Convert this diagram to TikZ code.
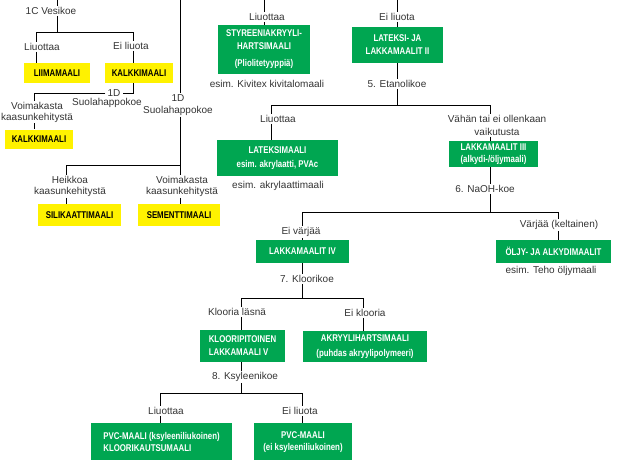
\documentclass[tikz,border=0pt]{standalone}
\usepackage{fontspec}
\setmainfont{Liberation Sans}
\newfontfamily\boxfont[FakeStretch=0.8]{Liberation Sans}
\usepackage{xcolor}
\usetikzlibrary{positioning, calc}

\definecolor{paintgreen}{RGB}{0,166,81}
\definecolor{paintyellow}{RGB}{255,242,0}

\tikzset{
  testlbl/.style={font=\fontsize{10}{11}\selectfont, text=black!80, align=center, inner sep=1pt},
  yellowbox/.style={fill=paintyellow, text=black, font=\boxfont\bfseries\fontsize{9.8}{13}\selectfont, inner sep=0pt, align=center},
  greenbox/.style={fill=paintgreen, text=white, font=\boxfont\bfseries\fontsize{9.8}{13}\selectfont, inner sep=0pt, align=center},
  wire/.style={draw=black, line width=0.8pt}
}

\begin{document}
\begin{tikzpicture}[x=1pt, y=-1pt]
    \useasboundingbox (0,0) rectangle (621,459);

    % Left tree: water test
    \node[testlbl] (vesi) at (51,11) {1C Vesikoe};
    \node[testlbl] (liu1) at (42,47) {Liuottaa};
    \node[testlbl] (ei1) at (131,46) {Ei liuota};
    \node[yellowbox, minimum width=66, minimum height=20] (liima) at (57,73) {LIIMAMAALI};
    \node[yellowbox, minimum width=68, minimum height=20] (kalk1) at (139,73) {KALKKIMAALI};
    \node[testlbl, inner sep=2pt] (sh1a) at (114,93) {1D};
    \node[testlbl] (sh1b) at (107,103) {Suolahappokoe};
    \node[testlbl] (voim1) at (37,112) {Voimakasta\\kaasunkehitystä};
    \node[yellowbox, minimum width=68, minimum height=19] (kalk2) at (39,139) {KALKKIMAALI};

    % Main line: hydrochloric acid test
    \node[testlbl, font=\fontsize{10}{12}\selectfont] (sh2) at (178,105) {1D\\Suolahappokoe};
    \node[testlbl] (heik) at (70,186.5) {Heikkoa\\kaasunkehitystä};
    \node[testlbl] (voim2) at (182,186.5) {Voimakasta\\kaasunkehitystä};
    \node[yellowbox, minimum width=83, minimum height=22] (sili) at (79.5,215) {SILIKAATTIMAALI};
    \node[yellowbox, minimum width=82, minimum height=22] (seme) at (179,215) {SEMENTTIMAALI};

    % Right tree
    \node[testlbl] (liu3) at (267,17) {Liuottaa};
    \node[greenbox, minimum width=92, minimum height=49] (styr) at (264,49.5) {STYREENIAKRYYLI-\\HARTSIMAALI\\[4pt](Pliolitetyyppiä)};
    \node[testlbl] (kivi) at (267,84) {esim. Kivitex kivitalomaali};
    \node[testlbl] (ei4) at (397,17) {Ei liuota};
    \node[greenbox, minimum width=91, minimum height=36] (lat2) at (397.5,45) {LATEKSI- JA\\LAKKAMAALIT II};
    \node[testlbl] (eta) at (397,84) {5. Etanolikoe};

    \node[testlbl] (liu5) at (278,119) {Liuottaa};
    \node[greenbox, minimum width=121, minimum height=36, font=\boxfont\bfseries\fontsize{9.8}{14}\selectfont] (latm) at (277.5,158) {LATEKSIMAALI\\esim. akrylaatti, PVAc};
    \node[testlbl] (akr) at (278,186) {esim. akrylaattimaali};
    \node[testlbl, font=\fontsize{10}{12.5}\selectfont] (vahan) at (497,125.5) {Vähän tai ei ollenkaan\\vaikutusta};
    \node[greenbox, align=left, minimum width=89, minimum height=26, font=\boxfont\bfseries\fontsize{9.8}{11.5}\selectfont] (lak3) at (493.5,154) {LAKKAMAALIT III\\(alkydi-/öljymaali)};
    \node[testlbl] (naoh) at (485,189) {6. NaOH-koe};

    \node[testlbl] (eiv) at (301,232) {Ei värjää};
    \node[greenbox, minimum width=93, minimum height=23] (lak4) at (302.5,251.5) {LAKKAMAALIT IV};
    \node[testlbl] (kloori) at (307,279) {7. Kloorikoe};
    \node[testlbl] (varj) at (559,225) {Värjää (keltainen)};
    \node[greenbox, minimum width=115, minimum height=23] (oljy) at (553.5,251.5) {ÖLJY- JA ALKYDIMAALIT};
    \node[testlbl] (teho) at (551,271) {esim. Teho öljymaali};

    \node[testlbl] (kl) at (237,312) {Klooria läsnä};
    \node[testlbl] (eik) at (365,313) {Ei klooria};
    \node[greenbox, align=left, minimum width=85, minimum height=32] (lak5) at (242.5,346) {KLOORIPITOINEN\\LAKKAMAALI V};
    \node[greenbox, minimum width=124, minimum height=31, font=\boxfont\bfseries\fontsize{9.8}{15}\selectfont] (akrh) at (365,346.5) {AKRYYLIHARTSIMAALI\\(puhdas akryylipolymeeri)};
    \node[testlbl] (ksy) at (245,377) {8. Ksyleenikoe};
    \node[testlbl] (liu8) at (166,411) {Liuottaa};
    \node[testlbl] (ei8) at (300,411) {Ei liuota};
    \node[greenbox, align=left, minimum width=141, minimum height=38, font=\boxfont\bfseries\fontsize{9.8}{12.5}\selectfont] (pvc1) at (161.5,442) {PVC-MAALI (ksyleeniliukoinen)\\KLOORIKAUTSUMAALI};
    \node[greenbox, minimum width=98, minimum height=38, font=\boxfont\bfseries\fontsize{9.8}{12.5}\selectfont] (pvc2) at (303,442) {PVC-MAALI\\(ei ksyleeniliukoinen)};

    % Branch points
    \coordinate (top1) at (57,0);
    \coordinate (b1) at (57,32);
    \coordinate (b1l) at (36,32);
    \coordinate (b1r) at (133,32);
    \coordinate (c1l) at (34,93);
    \coordinate (top2) at (180,0);
    \coordinate (b2) at (180,165);
    \coordinate (b2l) at (66,165);
    \coordinate (top3) at (264,0);
    \coordinate (top4) at (397,0);
    \coordinate (b5) at (397,105);
    \coordinate (b5l) at (271,105);
    \coordinate (b5r) at (490,105);
    \coordinate (b6) at (490,212);
    \coordinate (b6l) at (302,212);
    \coordinate (b6r) at (558,212);
    \coordinate (b7) at (302,298);
    \coordinate (b7l) at (241,298);
    \coordinate (b7r) at (363,298);
    \coordinate (b8) at (241,393);
    \coordinate (b8l) at (160,393);
    \coordinate (b8r) at (302,393);

    % Left connectors
    \draw[wire] (top1) -- (top1 |- vesi.north);
    \draw[wire] (top1 |- vesi.south) -- (b1);
    \draw[wire] (b1l) -- (b1r);
    \draw[wire] (b1l) -- (b1l |- liu1.north);
    \draw[wire] (b1l |- liu1.south) -- (b1l |- liima.north);
    \draw[wire] (b1r) -- (b1r |- ei1.north);
    \draw[wire] (b1r |- ei1.south) -- (b1r |- kalk1.north);
    \draw[wire] (b1r |- kalk1.south) |- (sh1a.east);
    \draw[wire] (sh1a.west) -| (c1l |- voim1.north);
    \draw[wire] (c1l |- voim1.south) -- (c1l |- kalk2.north);

    \draw[wire] (top2) -- (top2 |- sh2.north);
    \draw[wire] (top2 |- sh2.south) -- (b2);
    \draw[wire] (b2l) -- (b2);
    \draw[wire] (b2l) -- (b2l |- heik.north);
    \draw[wire] (b2l |- heik.south) -- (b2l |- sili.north);
    \draw[wire] (b2) -- (b2 |- voim2.north);
    \draw[wire] (b2 |- voim2.south) -- (b2 |- seme.north);

    % Right connectors
    \draw[wire] (top3) -- (top3 |- liu3.north);
    \draw[wire] (top3 |- liu3.south) -- (top3 |- styr.north);
    \draw[wire] (top4) -- (top4 |- ei4.north);
    \draw[wire] (top4 |- ei4.south) -- (top4 |- lat2.north);
    \draw[wire] (top4 |- lat2.south) -- (top4 |- eta.north);
    \draw[wire] (top4 |- eta.south) -- (b5);
    \draw[wire] (b5l) -- (b5r);
    \draw[wire] (b5l) -- (b5l |- liu5.north);
    \draw[wire] (b5l |- liu5.south) -- (b5l |- latm.north);
    \draw[wire] (b5r) -- (b5r |- vahan.north);
    \draw[wire] (b5r |- vahan.south) -- (b5r |- lak3.north);
    \draw[wire] (b5r |- lak3.south) -- (b5r |- naoh.north);
    \draw[wire] (b5r |- naoh.south) -- (b6);
    \draw[wire] (b6l) -- (b6r);
    \draw[wire] (b6l) -- (b6l |- eiv.north);
    \draw[wire] (b6l |- eiv.south) -- (b6l |- lak4.north);
    \draw[wire] (b6l |- lak4.south) -- (b6l |- kloori.north);
    \draw[wire] (b6r) -- (b6r |- varj.north);
    \draw[wire] (b6r |- varj.south) -- (b6r |- oljy.north);
    \draw[wire] (b7 |- kloori.south) -- (b7);
    \draw[wire] (b7l) -- (b7r);
    \draw[wire] (b7l) -- (b7l |- kl.north);
    \draw[wire] (b7l |- kl.south) -- (b7l |- lak5.north);
    \draw[wire] (b7r) -- (b7r |- eik.north);
    \draw[wire] (b7r |- eik.south) -- (b7r |- akrh.north);
    \draw[wire] (b7l |- lak5.south) -- (b7l |- ksy.north);
    \draw[wire] (b8 |- ksy.south) -- (b8);
    \draw[wire] (b8l) -- (b8r);
    \draw[wire] (b8l) -- (b8l |- liu8.north);
    \draw[wire] (b8l |- liu8.south) -- (b8l |- pvc1.north);
    \draw[wire] (b8r) -- (b8r |- ei8.north);
    \draw[wire] (b8r |- ei8.south) -- (b8r |- pvc2.north);
\end{tikzpicture}
\end{document}
